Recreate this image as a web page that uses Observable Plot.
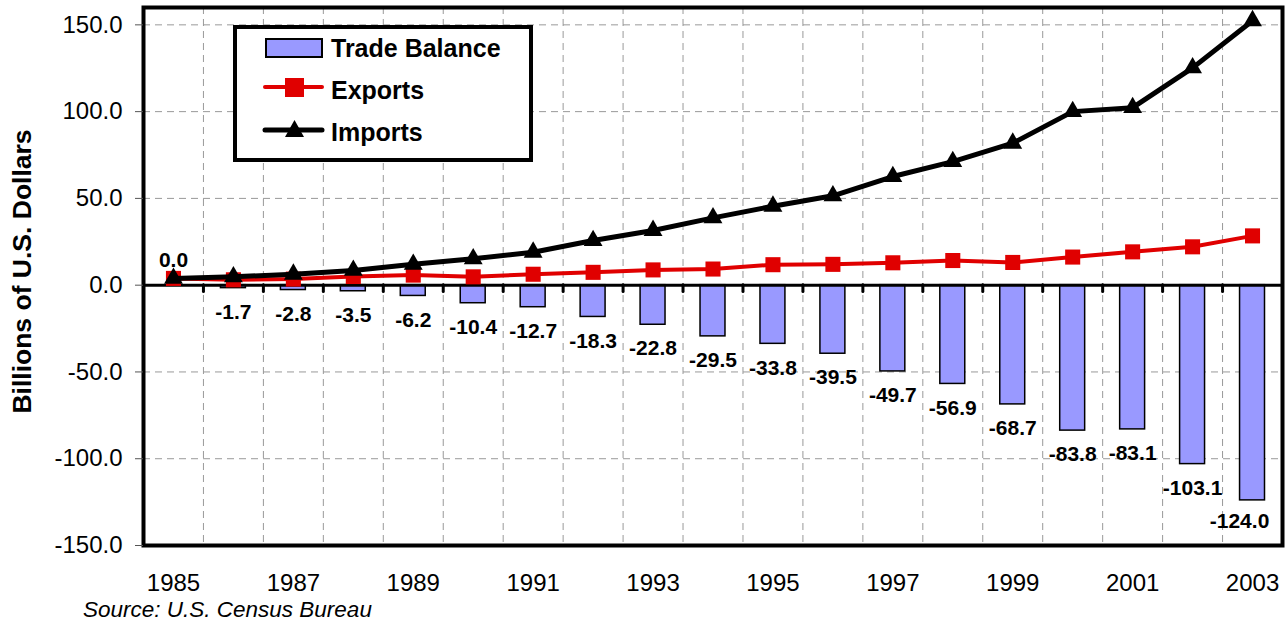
<!DOCTYPE html>
<html>
<head>
<meta charset="utf-8">
<script src="https://cdn.jsdelivr.net/npm/d3@7"></script>
<script src="https://cdn.jsdelivr.net/npm/@observablehq/plot@0.6"></script>
<style>
  html, body { margin: 0; padding: 0; background: white; }
  #wrap { position: relative; width: 1288px; height: 627px; font-family: "Liberation Sans", Arial, sans-serif; }
  #caption { position: absolute; left: 83px; top: 597px; font-size: 22.5px; line-height: 26px; font-style: italic; color: #000; }
  #legend { position: absolute; left: 0; top: 0; pointer-events: none; }
</style>
</head>
<body>
<div id="wrap">
  <div id="chart"></div>
  <svg id="legend" width="1288" height="627"></svg>
  <div id="caption">Source: U.S. Census Bureau</div>
</div>
<script>
const years = [1985, 1986, 1987, 1988, 1989, 1990, 1991, 1992, 1993, 1994, 1995, 1996, 1997, 1998, 1999, 2000, 2001, 2002, 2003];
const tradeBalance = [0.0, -1.7, -2.8, -3.5, -6.2, -10.4, -12.7, -18.3, -22.8, -29.5, -33.8, -39.5, -49.7, -56.9, -68.7, -83.8, -83.1, -103.1, -124.0];
const exportsVals = [3.9, 3.1, 3.5, 5.0, 5.8, 4.8, 6.3, 7.4, 8.8, 9.3, 11.8, 12.0, 12.9, 14.2, 13.1, 16.2, 19.2, 22.1, 28.4];
const importsVals = [3.9, 4.8, 6.3, 8.5, 12.0, 15.2, 19.0, 25.7, 31.5, 38.8, 45.5, 51.5, 62.6, 71.2, 81.8, 100.0, 102.3, 125.2, 152.4];
const yTicks = [-150, -100, -50, 0, 50, 100, 150];
const xTickYears = [1985, 1987, 1989, 1991, 1993, 1995, 1997, 1999, 2001, 2003];
const legendLabels = ["Trade Balance", "Exports", "Imports"];

const data = years.map((year, i) => ({year, balance: tradeBalance[i], exp: exportsVals[i], imp: importsVals[i]}));

const W = 1288, H = 600;
const mL = 143, mR = 6, mT = 7, mB = 55;
const bw = (W - mL - mR) / years.length;
const font = "Liberation Sans, Arial, sans-serif";
const red = "#e00000";

const chart = Plot.plot({
  width: W,
  height: H,
  marginLeft: mL,
  marginRight: mR,
  marginTop: mT,
  marginBottom: mB,
  style: {fontFamily: font, fontSize: "24px", background: "white", color: "black", overflow: "visible"},
  x: {type: "band", domain: years, padding: 0, round: false, axis: null},
  y: {domain: [-150, 160], axis: null},
  marks: [
    Plot.ruleY(yTicks.filter(d => d !== 0 && d !== -150), {stroke: "#999", strokeWidth: 1, strokeDasharray: "7,5"}),
    Plot.ruleX(years.slice(1), {dx: -bw / 2, stroke: "#999", strokeWidth: 1, strokeDasharray: "7,5"}),
    Plot.barY(data, {x: "year", y: "balance", fill: "#9999ff", stroke: "black", strokeWidth: 1.5, insetLeft: 17.5, insetRight: 17.5}),
    Plot.ruleY([0], {stroke: "black", strokeWidth: 3}),
    Plot.ruleX(years.slice(1), {y1: 0, y2: -4, dx: -bw / 2, stroke: "black", strokeWidth: 3, strokeLinecap: "round"}),
    Plot.line(data, {x: "year", y: "exp", stroke: red, strokeWidth: 4, strokeLinejoin: "round"}),
    Plot.dot(data, {x: "year", y: "exp", symbol: "square", r: 8.5, fill: red, stroke: "none"}),
    Plot.line(data, {x: "year", y: "imp", stroke: "black", strokeWidth: 5, strokeLinejoin: "round"}),
    Plot.dot(data, {x: "year", y: "imp", symbol: "triangle", r: 7, fill: "black", stroke: "none"}),
    Plot.text(data, {filter: d => d.balance >= 0, x: "year", y: "balance", text: d => d.balance.toFixed(1), dy: -25, fontSize: 21, fontWeight: "bold", fill: "black"}),
    Plot.text(data, {filter: d => d.balance < 0 && d.year !== 2003, x: "year", y: "balance", text: d => d.balance.toFixed(1), dy: 24, fontSize: 21, fontWeight: "bold", fill: "black"}),
    Plot.text(data, {filter: d => d.year === 2003, x: "year", y: "balance", text: d => d.balance.toFixed(1), dy: 21, dx: -13, fontSize: 21, fontWeight: "bold", fill: "black"}),
    Plot.frame({stroke: "black", strokeWidth: 4}),
    Plot.axisY({ticks: yTicks, tickFormat: d => d.toFixed(1), tickSize: 8, tickPadding: 13, label: null, fontSize: 24, stroke: "#555"}),
    Plot.axisX({ticks: xTickYears, tickFormat: d => String(d), tickSize: 0, tickPadding: 28, label: null, fontSize: 24}),
    Plot.text(["Billions of U.S. Dollars"], {frameAnchor: "left", textAnchor: "middle", dx: -121, dy: -5, rotate: -90, fontSize: 26.5, fontWeight: "bold", fill: "black"})
  ]
});
document.getElementById("chart").appendChild(chart);

// Legend overlay
const lg = d3.select("#legend");
lg.append("rect").attr("x", 235).attr("y", 27).attr("width", 296).attr("height", 133)
  .attr("fill", "white").attr("stroke", "black").attr("stroke-width", 4);
lg.append("rect").attr("x", 266).attr("y", 39).attr("width", 56).attr("height", 18)
  .attr("fill", "#9999ff").attr("stroke", "black").attr("stroke-width", 2);
lg.append("line").attr("x1", 265).attr("x2", 322).attr("y1", 87).attr("y2", 87)
  .attr("stroke", red).attr("stroke-width", 4).attr("stroke-linecap", "round");
lg.append("rect").attr("x", 285).attr("y", 78).attr("width", 19).attr("height", 19).attr("fill", red);
lg.append("line").attr("x1", 265).attr("x2", 322).attr("y1", 130).attr("y2", 130)
  .attr("stroke", "black").attr("stroke-width", 5).attr("stroke-linecap", "round");
lg.append("path").attr("d", "M294.5,120L285,137L304,137Z").attr("fill", "black");
const ly = [48, 90, 132];
legendLabels.forEach((t, i) => {
  lg.append("text").attr("x", 331).attr("y", ly[i]).attr("dy", "0.36em")
    .attr("font-family", font).attr("font-size", 25).attr("font-weight", "bold").text(t);
});
</script>
</body>
</html>
